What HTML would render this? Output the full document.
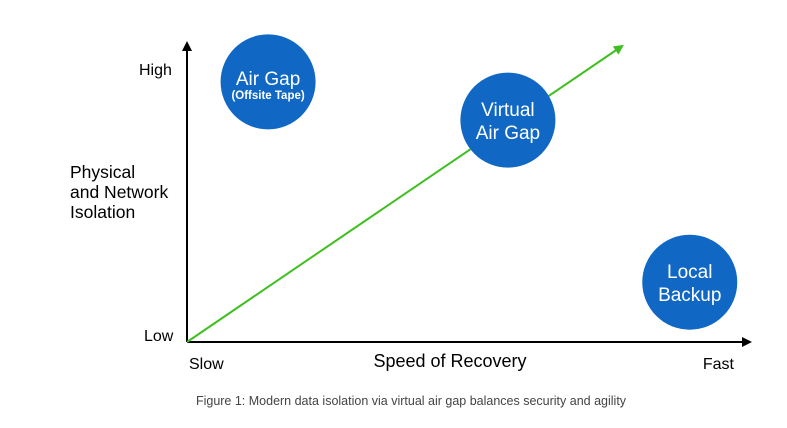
<!DOCTYPE html>
<html><head><meta charset="utf-8"><style>
body{margin:0;background:#fff}
svg{display:block;font-family:"Liberation Sans","DejaVu Sans",sans-serif}
</style></head><body>
<svg id="c" width="787" height="428" viewBox="0 0 787 428">
<defs>
<marker id="ab" markerWidth="10" markerHeight="10" refX="8" refY="5" orient="auto" markerUnits="userSpaceOnUse"><path d="M0,0 L10,5 L0,10 z" fill="#000"/></marker>
<marker id="ag" markerWidth="10" markerHeight="10" refX="8" refY="5" orient="auto" markerUnits="userSpaceOnUse"><path d="M0,0 L10,5 L0,10 z" fill="#3fbf1f"/></marker>
</defs>
<line x1="187" y1="342" x2="187" y2="43" stroke="#000" stroke-width="2" marker-end="url(#ab)"/>
<line x1="187" y1="342" x2="750" y2="342" stroke="#000" stroke-width="2" marker-end="url(#ab)"/>
<text x="139" y="75" font-size="16">High</text>
<text x="144" y="341" font-size="16">Low</text>
<text x="70" y="178" font-size="17.5"><tspan x="70">Physical</tspan><tspan x="70" dy="20">and Network</tspan><tspan x="70" dy="20">Isolation</tspan></text>
<text x="189" y="369" font-size="16">Slow</text>
<text x="450" y="367" font-size="18" text-anchor="middle">Speed of Recovery</text>
<text x="734" y="369" font-size="16" text-anchor="end">Fast</text>
<text x="411" y="405" font-size="12.5" fill="#444" text-anchor="middle">Figure 1: Modern data isolation via virtual air gap balances security and agility</text>
<g id="marks"></g>
</svg>
<script>
const labels=["Air Gap","Virtual Air Gap","Local Backup"];
const speed=[0.144,0.57,0.893];
const isolation=[0.87,0.742,0.2];
const trendStart=[0,0];
const trendEnd=[0.773,0.99];
const X=v=>187+v*563, Y=v=>342-v*299;
const NS="http://www.w3.org/2000/svg", g=document.getElementById('marks');
const tl=document.createElementNS(NS,'line');
tl.setAttribute('x1',X(trendStart[0]));tl.setAttribute('y1',Y(trendStart[1]));
tl.setAttribute('x2',X(trendEnd[0]));tl.setAttribute('y2',Y(trendEnd[1]));
tl.setAttribute('stroke','#3fbf1f');tl.setAttribute('stroke-width','2');tl.setAttribute('marker-end','url(#ag)');


g.appendChild(tl);
const lines=[[["Air Gap",19],["(Offsite Tape)",11.5]],[["Virtual",19],["Air Gap",19]],[["Local",19],["Backup",19]]];
labels.forEach((l,i)=>{
 const cx=X(speed[i]),cy=Y(isolation[i]);
 const c=document.createElementNS(NS,'circle');
 c.setAttribute('cx',cx);c.setAttribute('cy',cy);c.setAttribute('r',47.5);c.setAttribute('fill','#1068c4');
 
 
 g.appendChild(c);
 const ls=lines[i];
 const ys=i==0?[cy+3,cy+17]:[cy-4,cy+19];
 ls.forEach((t,j)=>{
  const tx=document.createElementNS(NS,'text');
  tx.setAttribute('x',cx);tx.setAttribute('y',ys[j]);tx.setAttribute('text-anchor','middle');
  tx.setAttribute('fill','#fff');tx.setAttribute('font-size',t[1]);
  tx.setAttribute('font-weight', j==1&&i==0?'bold':'normal');
  tx.textContent=t[0];
  
  
  g.appendChild(tx);
 });
});
</script>
</body></html>
